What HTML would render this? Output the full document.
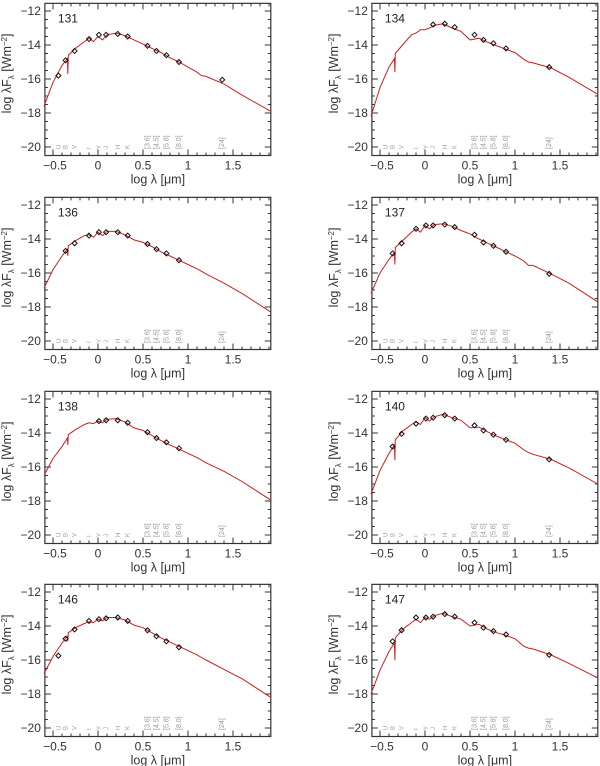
<!DOCTYPE html>
<html><head><meta charset="utf-8"><style>
body{margin:0;background:#fff;width:600px;height:766px;overflow:hidden}
svg{display:block;font-family:"Liberation Sans",sans-serif}
</style></head><body>
<svg id="c" width="600" height="766"></svg>
<script>
const panelIds=["131","134","136","137","138","140","146","147"];
const gridX=[-0.6,-0.5,-0.4,-0.34,-0.335,-0.33,-0.25,-0.15,-0.1,-0.05,0,0.05,0.1,0.2,0.3,0.4,0.5,0.6,0.7,0.8,0.9,1.0,1.1,1.15,1.2,1.4,1.6,1.92];
const model131=[-17.6,-16.2,-15.2,-14.8,-15.7,-14.6,-14.2,-13.8,-13.6,-13.8,-13.5,-13.7,-13.4,-13.3,-13.45,-13.7,-13.95,-14.2,-14.45,-14.75,-15.0,-15.3,-15.6,-15.8,-15.85,-16.3,-16.95,-17.9];
const model134=[-18.2,-16.5,-15.3,-14.8,-15.6,-14.5,-14.0,-13.4,-13.3,-13.1,-13.1,-13.0,-12.85,-12.75,-13.0,-13.2,-13.7,-13.6,-13.85,-14.05,-14.25,-14.45,-14.85,-15.0,-15.05,-15.35,-15.9,-16.9];
const model136=[-16.9,-15.8,-15.0,-14.6,-15.0,-14.4,-14.1,-13.8,-13.75,-13.9,-13.6,-13.8,-13.55,-13.55,-13.75,-14.05,-14.2,-14.45,-14.75,-15.0,-15.25,-15.5,-15.75,-15.9,-16.05,-16.6,-17.2,-18.3];
const model137=[-17.2,-16.0,-15.2,-14.8,-15.5,-14.5,-14.1,-13.6,-13.4,-13.6,-13.2,-13.4,-13.15,-13.1,-13.25,-13.5,-13.7,-14.0,-14.25,-14.5,-14.75,-15.0,-15.3,-15.55,-15.55,-16.05,-16.6,-17.7];
const model138=[-16.5,-15.5,-14.8,-14.3,-14.7,-14.1,-13.8,-13.5,-13.4,-13.45,-13.3,-13.4,-13.2,-13.15,-13.35,-13.7,-13.85,-14.15,-14.45,-14.7,-14.95,-15.2,-15.45,-15.6,-15.75,-16.25,-16.85,-17.95];
const model140=[-17.6,-16.2,-15.2,-14.7,-15.6,-14.4,-13.9,-13.5,-13.35,-13.5,-13.1,-13.3,-13.05,-12.9,-13.1,-13.25,-13.7,-13.65,-13.95,-14.2,-14.4,-14.6,-15.0,-15.15,-15.25,-15.55,-16.05,-17.0];
const model146=[-16.8,-15.8,-15.0,-14.6,-14.9,-14.4,-14.1,-13.85,-13.75,-13.8,-13.6,-13.7,-13.5,-13.5,-13.65,-13.95,-14.1,-14.4,-14.7,-14.95,-15.2,-15.45,-15.7,-15.85,-16.0,-16.55,-17.1,-18.2];
const model147=[-18.0,-16.6,-15.5,-15.0,-16.0,-14.7,-14.2,-13.8,-13.6,-13.8,-13.5,-13.6,-13.4,-13.25,-13.45,-13.6,-14.0,-13.9,-14.2,-14.4,-14.55,-14.75,-15.2,-15.3,-15.35,-15.7,-16.2,-17.05];
const bandNames=["U","B","V","I","Y","J","H","K","[3.6]","[4.5]","[5.8]","[8.0]","[24]"];
const bandX=[-0.44,-0.36,-0.26,-0.1,0.01,0.09,0.22,0.33,0.55,0.65,0.76,0.9,1.38];
const obs131=[-15.8,-14.9,-14.35,-13.65,-13.4,-13.4,-13.35,-13.5,-14.05,-14.35,-14.6,-15.0,-16.05];
const obs134=[null,null,null,null,null,-12.8,-12.75,-12.95,-13.4,-13.7,-13.9,-14.2,-15.3];
const obs136=[null,-14.7,-14.25,-13.8,-13.6,-13.6,-13.6,-13.8,-14.3,-14.6,-14.85,-15.25,null];
const obs137=[null,-14.85,-14.25,-13.4,-13.2,-13.2,-13.15,-13.3,-13.75,-14.2,-14.4,-14.75,-16.05];
const obs138=[null,null,null,null,-13.3,-13.25,-13.25,-13.4,-13.95,-14.3,-14.55,-14.9,null];
const obs140=[null,-14.8,-14.05,-13.45,-13.15,-13.1,-12.95,-13.15,-13.55,-13.85,-14.1,-14.4,-15.55];
const obs146=[-15.75,-14.75,-14.2,-13.7,-13.6,-13.55,-13.5,-13.7,-14.25,-14.6,-14.9,-15.25,null];
const obs147=[null,-14.9,-14.25,-13.5,-13.5,-13.45,-13.3,-13.45,-13.8,-14.1,-14.3,-14.5,-15.7];
const xTicks=[-0.5,0,0.5,1,1.5];
const xTickLabels=["\u22120.5","0","0.5","1","1.5"];
const yTicks=[-12,-14,-16,-18,-20];
const yTickLabels=["\u221212","\u221214","\u221216","\u221218","\u221220"];

const models=[model131,model134,model136,model137,model138,model140,model146,model147];
const obs=[obs131,obs134,obs136,obs137,obs138,obs140,obs146,obs147];
const NS="http://www.w3.org/2000/svg";
const svg=document.getElementById('c');
function mk(tag,attrs,parent){const e=document.createElementNS(NS,tag);for(const k in attrs)e.setAttribute(k,attrs[k]);(parent||svg).appendChild(e);return e;}
const rowOff=[0,194,388,581];
const colX0=[98,425];
const XMIN=-0.59,XMAX=1.92,YTOP=-11.55,YBOT=-20.5;
panelIds.forEach((id,i)=>{
  const col=i%2,row=Math.floor(i/2);
  const ox=colX0[col],oy=rowOff[row];
  const sx=v=>ox+v*90;
  const sy=v=>oy+11+(-12-v)*17;
  const g=mk('g',{});
  
  
  const L=sx(XMIN),R=sx(XMAX),T=sy(YTOP),B=sy(YBOT);
  const box=mk('rect',{x:L,y:T,width:R-L,height:B-T,fill:'none',stroke:'#333','stroke-width':1.2},g);
  
  
  let d='';
  for(let k=-6;k<=19;k++){const v=k/10;if(v<XMIN||v>XMAX)continue;const x=sx(v);const maj=Math.abs(v*2-Math.round(v*2))<1e-6;const len=maj?6:3;d+=`M${x},${B}v${-len}M${x},${T}v${len}`;}
  for(let k=-41;k<=-23;k++){const v=k/2;if(v>YTOP||v<YBOT)continue;const y=sy(v);const maj=k%4===0;const len=maj?6:3;d+=`M${L},${y}h${len}M${R},${y}h${-len}`;}
  const tk=mk('path',{d:d,stroke:'#333','stroke-width':1,fill:'none'},g);
  
  
  xTicks.forEach((v,j)=>{const t=mk('text',{x:sx(v)+(v<0?2:0),y:B+14,'font-size':12,'text-anchor':'middle',fill:'#333'},g);t.textContent=xTickLabels[j];
    
    });
  yTicks.forEach((v,j)=>{const t=mk('text',{x:L-4,y:sy(v)+4,'font-size':12,'text-anchor':'end',fill:'#333'},g);t.textContent=yTickLabels[j];
    
    });
  const xl=mk('text',{x:(L+R)/2,y:B+28,'font-size':12.5,'text-anchor':'middle',fill:'#333'},g);
  xl.innerHTML='log  \u03bb  [\u03bcm]';
  
  
  const yl=mk('text',{x:0,y:0,'font-size':12.5,'text-anchor':'middle',fill:'#333',transform:`translate(${L-34},${(T+B)/2-6}) rotate(-90)`},g);
  yl.innerHTML='log  \u03bbF<tspan font-size="8" dy="3">\u03bb</tspan><tspan dy="-3"> [Wm</tspan><tspan font-size="8" dy="-4">\u22122</tspan><tspan dy="4">]</tspan>';
  
  
  const lab=mk('text',{x:L+13,y:T+19,'font-size':12,fill:'#222'},g);
  lab.textContent=id;
  
  
  bandNames.forEach((n,j)=>{const x=sx(bandX[j]);const y=sy(-20);
    const t=mk('text',{x:0,y:0,'font-size':n.length>1?7:6,fill:'#999','text-anchor':'start',transform:`translate(${x+2},${y+2}) rotate(-90)`},g);
    t.textContent=n;
    
    });
  const m=models[i];let p='';
  gridX.forEach((x,j)=>{p+=(j?'L':'M')+sx(x).toFixed(1)+','+sy(m[j]).toFixed(1);});
  const cv=mk('path',{d:p,stroke:'#cc1f1f','stroke-width':1,fill:'none'},g);
  
  
  obs[i].forEach((v,j)=>{if(v===null)return;const x=sx(bandX[j]),y=sy(v);
    const dm=mk('path',{d:`M${x-2.5},${y}L${x},${y-2.5}L${x+2.5},${y}L${x},${y+2.5}Z`,fill:'none',stroke:'#111','stroke-width':1},g);
    
    });
});
</script>
</body></html>
